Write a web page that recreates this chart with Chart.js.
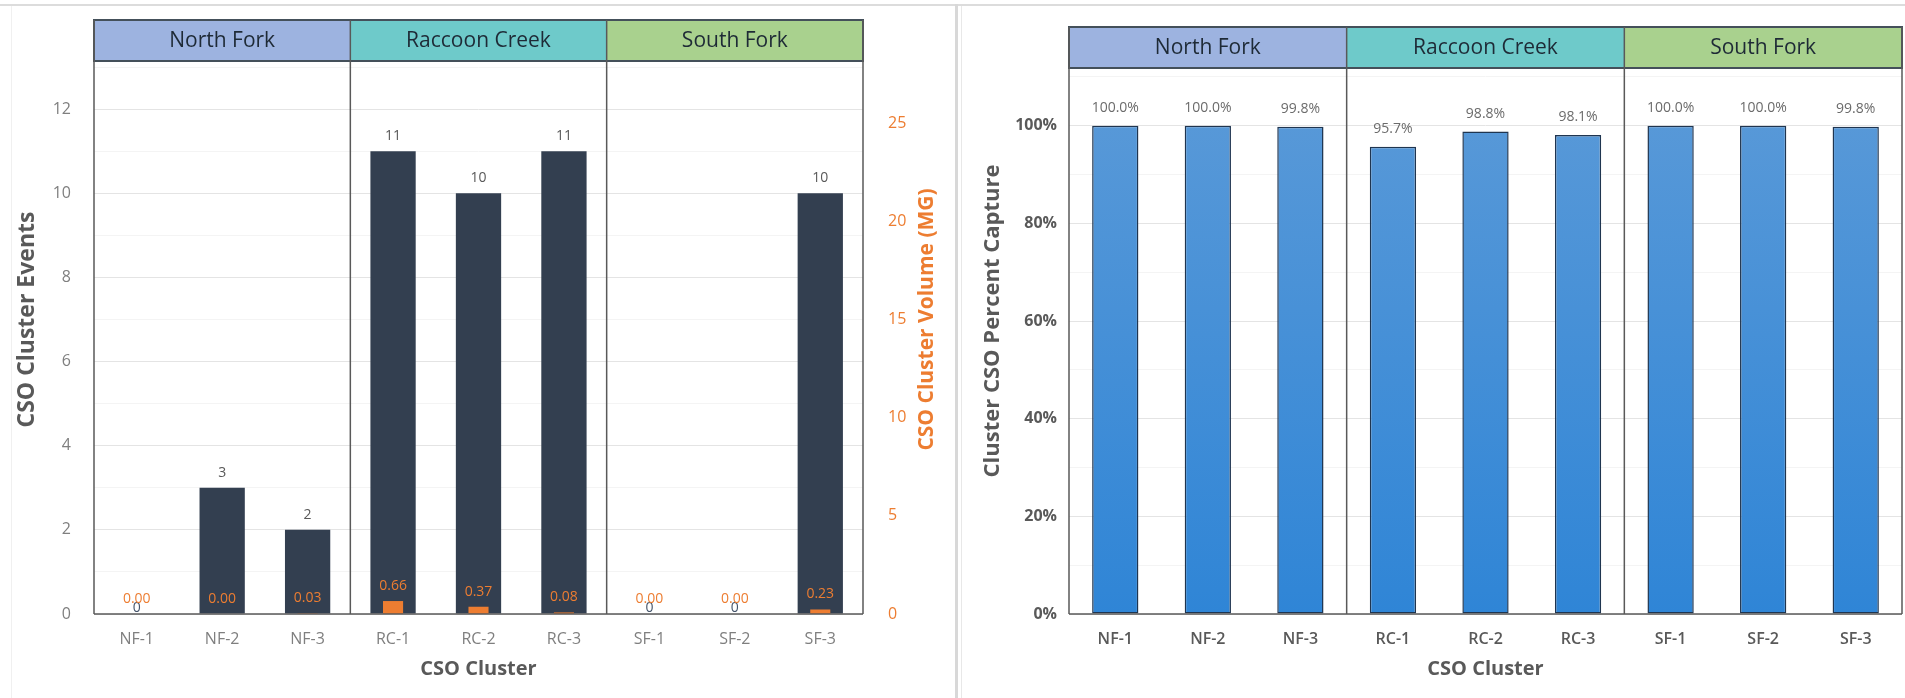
<!DOCTYPE html>
<html>
<head>
<meta charset="utf-8">
<title>CSO Cluster Events, Volume and Percent Capture</title>
<script src="https://cdn.jsdelivr.net/npm/chart.js@4.4.1/dist/chart.umd.min.js"></script>
<style>
  html, body { margin: 0; padding: 0; background: #fff; }
  body { width: 1905px; height: 698px; position: relative; overflow: hidden; font-family: 'Open Sans', sans-serif; }
  .rule-top { position: absolute; left: 0; top: 4px; width: 1905px; height: 2px; background: #dcdcdc; }
  .rule-left { position: absolute; left: 11px; top: 6px; width: 1px; height: 692px; background: #f0f0f0; }
  .divider { position: absolute; left: 955px; top: 4px; width: 3px; height: 694px; background: #d8d8d8; }
  .divider-thin { position: absolute; left: 961px; top: 6px; width: 1px; height: 692px; background: #e8e8e8; }
  #events-wrap { position: absolute; left: 0; top: 0; width: 955px; height: 698px; }
  #capture-wrap { position: absolute; left: 962px; top: 0; width: 943px; height: 698px; }
</style>
</head>
<body>
<div class="rule-top"></div>
<div class="rule-left"></div>
<div class="divider"></div>
<div class="divider-thin"></div>
<div id="events-wrap"><canvas id="events-chart"></canvas></div>
<div id="capture-wrap"><canvas id="capture-chart"></canvas></div>

<script>
// Clusters and the watershed each group of three belongs to
const clusters = ['NF-1', 'NF-2', 'NF-3', 'RC-1', 'RC-2', 'RC-3', 'SF-1', 'SF-2', 'SF-3'];
const watersheds = ['North Fork', 'Raccoon Creek', 'South Fork'];
const watershedSize = [3, 3, 3];
const watershedColors = ['#9db3e0', '#6ecaca', '#a9d18e'];

// Series
const clusterEvents = [0, 3, 2, 11, 10, 11, 0, 0, 10];
const clusterVolume = [0.00, 0.00, 0.03, 0.66, 0.37, 0.08, 0.00, 0.00, 0.23];
const percentCapture = [100.0, 100.0, 99.8, 95.7, 98.8, 98.1, 100.0, 100.0, 99.8];

// Axis tick labels that are shown
const eventTicks = [0, 2, 4, 6, 8, 10, 12];
const volumeTicks = [0, 5, 10, 15, 20, 25];
const captureTicks = [0, 20, 40, 60, 80, 100];

const FONT = "'Open Sans', sans-serif";
const GREY = '#595959';
const ORANGE = '#ed7d31';

// y axes: fixed width, no extra room for half tick labels
function fixAxisWidth(width) {
    return s => {
        s.width = width;
        s.paddingTop = 0;
        s.paddingBottom = 0;
    };
}

// Value labels above bars (drawn by hand, no datalabels plugin here)
const barValueLabels = {
    id: 'barValueLabels',
    afterDatasetsDraw(chart) {
        const ctx = chart.ctx;
        chart.data.datasets.forEach((ds, i) => {
            const lab = ds.valueLabel;
            if (!lab) return;
            const meta = chart.getDatasetMeta(i);
            ctx.save();
            ctx.font = lab.font;
            ctx.textAlign = 'center';
            ctx.textBaseline = 'middle';
            meta.data.forEach((bar, j) => {
                const v = ds.data[j];
                const zero = v === 0 && lab.zeroColor;
                ctx.fillStyle = zero ? lab.zeroColor : lab.color;
                const y = zero ? bar.base - lab.zeroOffset : bar.y - lab.offset;
                ctx.fillText(lab.format(v), bar.x, y);
            });
            ctx.restore();
        });
    }
};

// Watershed header bands, plot outline and group dividers
function watershedFrame(headerOffset, headerHeight) {
    return {
        id: 'watershedFrame',
        afterDraw(chart) {
            const ctx = chart.ctx;
            const a = chart.chartArea;
            const x = chart.scales.x;
            const half = (x.getPixelForValue(1) - x.getPixelForValue(0)) / 2;
            const top = a.top + headerOffset;
            const bot = top + headerHeight;

            ctx.save();
            const edges = [a.left];
            let start = 0;
            watersheds.forEach((name, i) => {
                const end = start + watershedSize[i] - 1;
                const x0 = edges[edges.length - 1];
                const x1 = i === watersheds.length - 1 ? a.right : x.getPixelForValue(end) + half;
                edges.push(x1);
                ctx.fillStyle = watershedColors[i];
                ctx.fillRect(x0, top, x1 - x0, bot - top);
                ctx.fillStyle = '#1e2a36';
                ctx.font = '21px ' + FONT;
                ctx.textAlign = 'center';
                ctx.textBaseline = 'middle';
                ctx.fillText(name, (x0 + x1) / 2, (top + bot) / 2 + 1);
                start = end + 1;
            });

            // header outline
            ctx.strokeStyle = '#44505a';
            ctx.lineWidth = 2;
            ctx.strokeRect(a.left, top, a.right - a.left, bot - top);

            // plot sides, bottom and dividers between watersheds
            ctx.strokeStyle = '#595959';
            ctx.lineWidth = 1.5;
            ctx.beginPath();
            edges.forEach(ex => {
                ctx.moveTo(ex, top);
                ctx.lineTo(ex, a.bottom);
            });
            ctx.moveTo(a.left, a.bottom);
            ctx.lineTo(a.right, a.bottom);
            ctx.stroke();
            ctx.restore();
        }
    };
}

// Right axis title reads bottom-to-top, so it is drawn here
const volumeAxisTitle = {
    id: 'volumeAxisTitle',
    afterDraw(chart) {
        const ctx = chart.ctx;
        const a = chart.chartArea;
        ctx.save();
        ctx.translate(927, (a.top + a.bottom) / 2);
        ctx.rotate(-Math.PI / 2);
        ctx.fillStyle = ORANGE;
        ctx.font = 'bold 21px ' + FONT;
        ctx.textAlign = 'center';
        ctx.textBaseline = 'middle';
        ctx.fillText('CSO Cluster Volume (MG)', 0, 0);
        ctx.restore();
    }
};

// Events + volume chart
new Chart(document.getElementById('events-chart'), {
    type: 'bar',
    data: {
        labels: clusters,
        datasets: [
            {
                label: 'CSO Cluster Events',
                data: clusterEvents,
                yAxisID: 'y',
                backgroundColor: '#333f50',
                barPercentage: 0.53,
                categoryPercentage: 1,
                grouped: false,
                order: 2,
                valueLabel: {
                    font: '14px ' + FONT, color: GREY, offset: 15,
                    zeroColor: '#44546a', zeroOffset: 6,
                    format: v => String(v)
                }
            },
            {
                label: 'CSO Cluster Volume (MG)',
                data: clusterVolume,
                yAxisID: 'y1',
                backgroundColor: ORANGE,
                barPercentage: 0.235,
                categoryPercentage: 1,
                grouped: false,
                order: 1,
                valueLabel: {
                    font: '14px ' + FONT, color: ORANGE, offset: 15,
                    format: v => v.toFixed(2)
                }
            }
        ]
    },
    options: {
        responsive: true,
        maintainAspectRatio: false,
        animation: false,
        layout: { padding: { top: 25, left: 0, right: 0, bottom: 0 } },
        plugins: {
            legend: { display: false },
            tooltip: { enabled: false }
        },
        scales: {
            x: {
                grid: { display: false, drawTicks: false },
                border: { display: false },
                ticks: { color: '#7f7f7f', font: { family: FONT, size: 16 }, padding: 16 },
                title: {
                    display: true, text: 'CSO Cluster', color: GREY,
                    font: { family: FONT, size: 20, weight: 'bold' },
                    padding: { top: 0, bottom: 17 }
                },
                afterFit: s => { s.height = 84; }
            },
            y: {
                position: 'left',
                min: 0,
                max: 14,
                grid: {
                    drawTicks: false,
                    color: c => (c.tick.value % 2 === 0 ? '#e4e4e4' : '#f4f4f4')
                },
                border: { display: false },
                ticks: {
                    stepSize: 1,
                    autoSkip: false,
                    color: '#7f7f7f',
                    font: { family: FONT, size: 16 },
                    padding: 23,
                    callback: v => (eventTicks.includes(v) ? v : '')
                },
                title: {
                    display: true, text: 'CSO Cluster Events', color: GREY,
                    font: { family: FONT, size: 23, weight: 'bold' },
                    padding: { top: 14, bottom: 0 }
                },
                afterFit: fixAxisWidth(94)
            },
            y1: {
                position: 'right',
                min: 0,
                max: 30,
                grid: { display: false, drawTicks: false },
                border: { display: false },
                ticks: {
                    stepSize: 5,
                    color: ORANGE,
                    font: { family: FONT, size: 16 },
                    padding: 25,
                    callback: v => (volumeTicks.includes(v) ? v : '')
                },
                afterFit: fixAxisWidth(92)
            }
        }
    },
    plugins: [barValueLabels, watershedFrame(-5, 41), volumeAxisTitle]
});

// Percent capture chart
new Chart(document.getElementById('capture-chart'), {
    type: 'bar',
    data: {
        labels: clusters,
        datasets: [{
            label: 'Cluster CSO Percent Capture',
            data: percentCapture,
            backgroundColor: c => {
                const a = c.chart.chartArea;
                if (!a) return '#4a90d8';
                const g = c.chart.ctx.createLinearGradient(0, a.top, 0, a.bottom);
                g.addColorStop(0, '#5f9cd8');
                g.addColorStop(1, '#2f85d6');
                return g;
            },
            borderColor: '#1f3550',
            borderWidth: 1.5,
            borderSkipped: false,
            barPercentage: 0.5,
            categoryPercentage: 1,
            valueLabel: {
                font: '14px ' + FONT, color: '#6b6b6b', offset: 18,
                format: v => v.toFixed(1) + '%'
            }
        }]
    },
    options: {
        responsive: true,
        maintainAspectRatio: false,
        animation: false,
        layout: { padding: { top: 28, left: 0, right: 3, bottom: 0 } },
        plugins: {
            legend: { display: false },
            tooltip: { enabled: false }
        },
        scales: {
            x: {
                grid: { display: false, drawTicks: false },
                border: { display: false },
                ticks: { color: GREY, font: { family: FONT, size: 16, weight: '600' }, padding: 16 },
                title: {
                    display: true, text: 'CSO Cluster', color: GREY,
                    font: { family: FONT, size: 20, weight: 'bold' },
                    padding: { top: 0, bottom: 17 }
                },
                afterFit: s => { s.height = 84; }
            },
            y: {
                min: 0,
                max: 120,
                grid: {
                    drawTicks: false,
                    color: c => (c.tick.value % 20 === 0 ? '#e4e4e4' : '#f4f4f4')
                },
                border: { display: false },
                ticks: {
                    stepSize: 10,
                    autoSkip: false,
                    color: GREY,
                    font: { family: FONT, size: 16, weight: 'bold' },
                    padding: 12,
                    callback: v => (captureTicks.includes(v) ? v + '%' : '')
                },
                title: {
                    display: true, text: 'Cluster CSO Percent Capture', color: GREY,
                    font: { family: FONT, size: 22, weight: 'bold' },
                    padding: { top: 18, bottom: 0 }
                },
                afterFit: fixAxisWidth(107)
            }
        }
    },
    plugins: [barValueLabels, watershedFrame(-1, 41)]
});
</script>
</body>
</html>
